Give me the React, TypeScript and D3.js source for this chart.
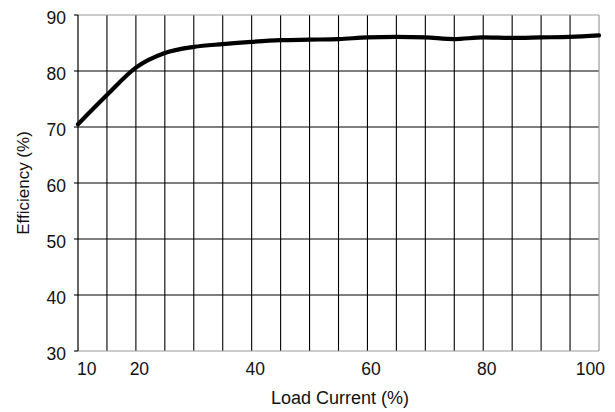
import React from "react";
import * as d3 from "d3";

const loadCurrent = [10, 15, 20, 25, 30, 35, 40, 45, 50, 55, 60, 65, 70, 75, 80, 85, 90, 95, 100];
const efficiency = [70.5, 75.7, 80.6, 83.2, 84.3, 84.8, 85.2, 85.5, 85.6, 85.7, 86.0, 86.1, 86.0, 85.7, 86.0, 85.9, 86.0, 86.1, 86.35];
const xGrid = d3.range(10, 100.1, 5);
const yTicks = [30, 40, 50, 60, 70, 80, 90];
const xLabels = [10, 20, 40, 60, 80, 100];

const W = 615, H = 412;
const L = 78, R = 599, T = 15, B = 351;

export default function App() {
  const x = d3.scaleLinear().domain([10, 100]).range([L, R]);
  const y = d3.scaleLinear().domain([30, 90]).range([B, T]);
  const line = d3.line<number>()
    .x((_, i) => x(loadCurrent[i]))
    .y((d) => y(d))
    .curve(d3.curveMonotoneX);
  const font = "Liberation Sans, Arial, sans-serif";
  return (
    <svg width={W} height={H} style={{ position: "absolute", left: 0, top: 0, background: "#fff" }}>
      <rect x={0} y={0} width={W} height={H} fill="#fff" />
      {xGrid.slice(1, -1).map((v) => (
        <line key={"vx" + v} x1={x(v)} x2={x(v)} y1={T} y2={B} stroke="#000" strokeWidth={1.1} />
      ))}
      {yTicks.slice(1, -1).map((v) => (
        <line key={"hy" + v} x1={L} x2={R} y1={y(v)} y2={y(v)} stroke="#000" strokeWidth={1.1} />
      ))}
      <line x1={L} x2={R} y1={T} y2={T} stroke="#999" strokeWidth={1.2} />
      <line x1={R} x2={R} y1={T} y2={B} stroke="#999" strokeWidth={1.2} />
      <line x1={L} x2={R} y1={B} y2={B} stroke="#999" strokeWidth={1.2} />
      <line x1={L} x2={L} y1={T} y2={B} stroke="#000" strokeWidth={1.2} />
      {yTicks.map((v) => (
        <g key={"yt" + v}>
          <line x1={L - 4} x2={L} y1={y(v)} y2={y(v)} stroke="#000" strokeWidth={1.1} />
          <text x={66} y={y(v) + 3} dy="0.36em" textAnchor="end" fontFamily={font} fontSize={17.5} fill="#111">
            {v}
          </text>
        </g>
      ))}
      {xLabels.map((v) => {
        let anchor = "middle";
        let xx = x(v) + 3.5;
        if (v === 10) { anchor = "start"; xx = x(v) - 1; }
        if (v === 100) { anchor = "end"; xx = x(v) + 6; }
        return (
          <text key={"xl" + v} x={xx} y={375} textAnchor={anchor} fontFamily={font} fontSize={17.5} fill="#111">
            {v}
          </text>
        );
      })}
      <path d={line(efficiency) || ""} fill="none" stroke="#000" strokeWidth={4.2} strokeLinejoin="round" strokeLinecap="round" />
      <text x={340} y={404} textAnchor="middle" fontFamily={font} fontSize={18} fill="#111">
        Load Current (%)
      </text>
      <text transform={`translate(29,183) rotate(-90)`} textAnchor="middle" fontFamily={font} fontSize={17} fill="#111">
        Efficiency (%)
      </text>
    </svg>
  );
}
